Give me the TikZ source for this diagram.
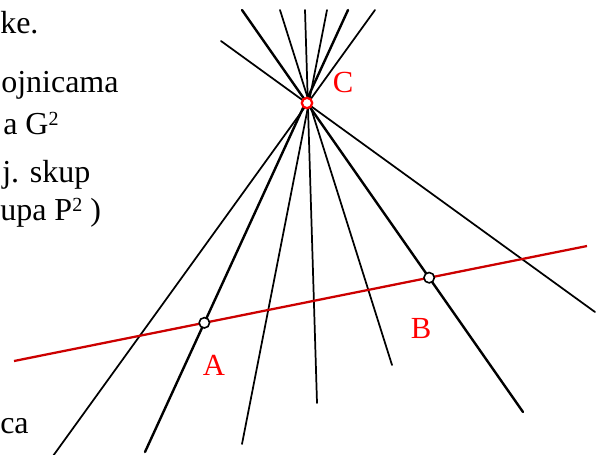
\documentclass[tikz,border=0pt]{standalone}
\usepackage{fontspec}
\setmainfont{Liberation Serif}
\usetikzlibrary{calc,intersections}
\definecolor{basered}{RGB}{204,0,0}
\definecolor{labelred}{RGB}{255,0,0}
\newcommand{\suptwo}{\raisebox{6.3pt}{\fontsize{15}{15}\selectfont 2}}

\begin{document}
\begin{tikzpicture}[x=0.75pt,y=-0.75pt,
    every node/.style={inner sep=0pt,font=\fontsize{24}{29}\selectfont},
    ray/.style={line width=1.3pt,line cap=round},
    mainray/.style={line width=1.8pt,line cap=round},
    lbl/.style={text=labelred,font=\fontsize{23}{28}\selectfont},
    ptmark/.style={circle,draw,fill=white,line width=1.2pt,minimum size=7.8pt}]
  \useasboundingbox (0,0) rectangle (605,454);
  \clip (0,0) rectangle (605,454);
  % text cut off at the left margin
  \node[anchor=base west] (ke)   at (0,33)    {ke.};
  \node[anchor=base west] (ojn)  at (1,92)    {ojnicama};
  \node[anchor=base west] (sag)  at (3,134)   {a G\suptwo};
  \node[anchor=base west] (skup) at (2,182)   {j. skup};
  \node[anchor=base west] (upa)  at (0,220)   {upa P\suptwo\ )};
  \node[anchor=base west] (ca)   at (0,433)   {ca};
  % pencil of lines through C
  \coordinate (C) at (307,103);
  \foreach \ax/\ay/\bx/\by in {221/41/595/312, 280/10/392/365,
                               305/10/317/403, 327/10/242/444,
                               375/10/53/456} {
    \coordinate (top) at (\ax,\ay);
    \coordinate (bot) at (\bx,\by);
    \draw[ray] (top) -- (bot);
  }
  \coordinate (tb) at (242,10);  \coordinate (bb) at (523,412);
  \coordinate (ta) at (348,10);  \coordinate (ba) at (145,452);
  \draw[mainray,name path=rayb] (tb) -- (bb);
  \draw[mainray,name path=raya] (ta) -- (ba);
  % the red line
  \coordinate (r1) at (14,361);
  \coordinate (r2) at (587,246);
  \draw[basered,line width=1.7pt,name path=base] (r1) -- (r2);
  \path[name intersections={of=base and raya,by=A}];
  \path[name intersections={of=base and rayb,by=B}];
  \node[ptmark] (pa) at (A) {};
  \node[ptmark] (pb) at (B) {};
  \node[ptmark,draw=labelred,line width=1.7pt] (pc) at (C) {};
  \node[lbl,anchor=base] (la) at (214,375) {A};
  \node[lbl,anchor=base] (lb) at (421,338) {B};
  \node[lbl,anchor=base] (lc) at (343,92)  {C};
\end{tikzpicture}
\end{document}
